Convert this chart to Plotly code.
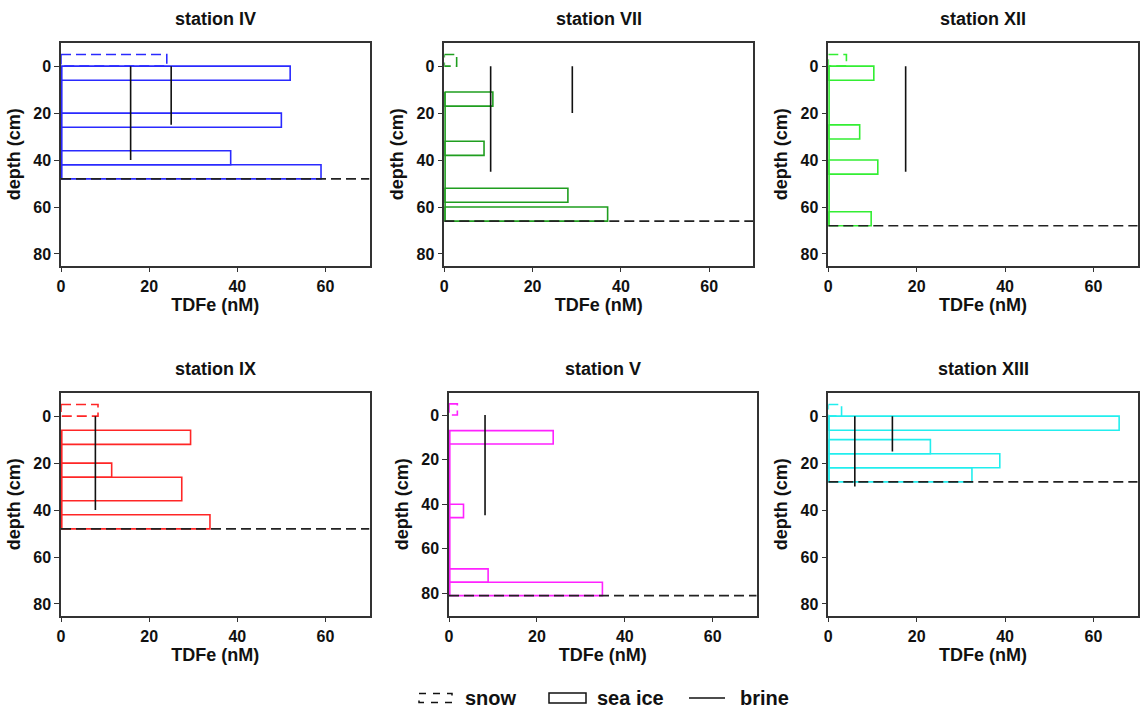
import plotly.graph_objects as go

# ---------------- data ----------------
stations = ["station IV", "station VII", "station XII", "station IX", "station V", "station XIII"]
colors = ["#2a2aff", "#1f9e1f", "#33ee33", "#ff2626", "#ff22ff", "#22eeee"]

snow_top = [-5, -5, -5, -5, -5, -5]
snow_bot = [0, 0, 0, 0, 0, 0]
snow_tdfe = [24, 2.8, 4.1, 8.4, 1.9, 3.0]

ice_top = [[0, 20, 36, 42], [11, 32, 52, 60], [0, 25, 40, 62],
           [6, 20, 26, 42], [7, 40, 69, 75], [0, 10, 16, 22]]
ice_bot = [[6, 26, 42, 48], [17, 38, 58, 66], [6, 31, 46, 68],
           [12, 26, 36, 48], [13, 46, 75, 81], [6, 16, 22, 28]]
ice_tdfe = [[52, 50, 38.5, 59], [11, 9, 28, 37], [10.3, 7.1, 11.2, 9.7],
            [29.4, 11.5, 27.4, 33.8], [23.7, 3.3, 8.9, 34.9], [65.8, 23.1, 38.8, 32.5]]

brine_tdfe = [[15.8, 25], [10.5, 29], [17.5], [7.8], [8.2], [6, 14.5]]
brine_top = [[0, 0], [0, 0], [0], [0], [0], [0, 0]]
brine_bot = [[40, 25], [45, 20], [45], [40], [45], [30, 15]]

ice_base = [48, 66, 68, 48, 81, 28]
depth_max = [85, 85, 85, 85, 90, 85]
depth_min = -10
tdfe_max = 70
x_ticks = [0, 20, 40, 60]
y_ticks = [0, 20, 40, 60, 80]

# ---------------- layout geometry (pixels) ----------------
W, H = 1140, 708
px_x0 = [61, 444.3, 828.3, 61, 449, 828.3]
px_x1 = [369.5, 753.3, 1137.7, 369.5, 756.7, 1137.7]
px_top = [42.7, 42.7, 42.7, 392.7, 392.7, 392.7]
px_bot = [265.7, 265.7, 265.7, 615.7, 615.7, 615.7]

FONT = "Liberation Sans, Arial, Helvetica, sans-serif"
LW = 1.6

fig = go.Figure()
layout = dict(
    width=W, height=H, autosize=False,
    margin=dict(l=0, r=0, t=0, b=0),
    paper_bgcolor="white", plot_bgcolor="white",
    showlegend=False,
    font=dict(family=FONT, color="black"),
    annotations=[], shapes=[],
)

for i in range(6):
    n = "" if i == 0 else str(i + 1)
    xa, ya = "x" + n, "y" + n
    col = colors[i]

    # snow (dashed box)
    s_v, s_t, s_b = snow_tdfe[i], snow_top[i], snow_bot[i]
    fig.add_trace(go.Scatter(
        x=[0, s_v, s_v, 0, 0], y=[s_t, s_t, s_b, s_b, s_t], mode="lines",
        line=dict(color=col, width=LW, dash="10px,5px"),
        xaxis=xa, yaxis=ya, hoverinfo="skip"))

    # sea ice profile along x=0
    fig.add_trace(go.Scatter(
        x=[0, 0], y=[min(ice_top[i]), max(ice_bot[i])], mode="lines",
        line=dict(color=col, width=LW * 2), xaxis=xa, yaxis=ya, hoverinfo="skip"))

    # sea ice boxes
    for t, b, v in zip(ice_top[i], ice_bot[i], ice_tdfe[i]):
        fig.add_trace(go.Scatter(
            x=[0, v, v, 0, 0], y=[t, t, b, b, t], mode="lines",
            line=dict(color=col, width=LW),
            xaxis=xa, yaxis=ya, hoverinfo="skip"))

    # ice base (dashed)
    fig.add_trace(go.Scatter(
        x=[0, tdfe_max], y=[ice_base[i], ice_base[i]], mode="lines",
        line=dict(color="#222222", width=LW, dash="10px,5px"),
        xaxis=xa, yaxis=ya, hoverinfo="skip"))

    # brine
    for bx, bt, bb in zip(brine_tdfe[i], brine_top[i], brine_bot[i]):
        fig.add_trace(go.Scatter(
            x=[bx, bx], y=[bt, bb], mode="lines",
            line=dict(color="#111111", width=LW),
            xaxis=xa, yaxis=ya, hoverinfo="skip"))

    xd = [px_x0[i] / W, px_x1[i] / W]
    yd = [1 - px_bot[i] / H, 1 - px_top[i] / H]
    tickfont = dict(family=FONT, size=16, color="#111111", weight="bold")
    layout["xaxis" + n] = dict(
        domain=xd, anchor=ya, range=[0, tdfe_max], tickvals=x_ticks,
        showline=True, linecolor="#333333", linewidth=1.5, mirror=True,
        ticks="outside", ticklen=5, tickwidth=1.3, tickcolor="#333333",
        showgrid=False, zeroline=False, tickfont=tickfont, automargin=False,
        layer="below traces",
        title=dict(text="<b>TDFe (nM)</b>", standoff=4,
                   font=dict(family=FONT, size=18, color="#111111")))
    layout["yaxis" + n] = dict(
        domain=yd, anchor=xa, range=[depth_max[i], depth_min], tickvals=y_ticks,
        showline=True, linecolor="#333333", linewidth=1.5, mirror=True,
        ticks="outside", ticklen=5, tickwidth=1.3, tickcolor="#333333",
        showgrid=False, zeroline=False, tickfont=tickfont, automargin=False,
        layer="below traces",
        title=dict(text="<b>depth (cm)</b>", standoff=8,
                   font=dict(family=FONT, size=18, color="#111111")))

    layout["annotations"].append(dict(
        text="<b>" + stations[i] + "</b>", xref="paper", yref="paper",
        x=(px_x0[i] + px_x1[i]) / 2 / W, y=1 - (px_top[i] - 24) / H,
        xanchor="center", yanchor="middle", showarrow=False,
        font=dict(family=FONT, size=18, color="#111111")))

# ---------------- custom legend ----------------
ly = 698
def px(xp):
    return xp / W
def py(yp):
    return 1 - yp / H

legend_font = dict(family=FONT, size=20, color="#111111")
layout["shapes"].append(dict(type="rect", xref="paper", yref="paper",
                             x0=px(419), x1=px(452), y0=py(693.5), y1=py(702.5),
                             line=dict(color="#111111", width=1.5, dash="7px,7px")))
layout["shapes"].append(dict(type="rect", xref="paper", yref="paper",
                             x0=px(549), x1=px(586), y0=py(693), y1=py(703),
                             line=dict(color="#111111", width=1.5)))
layout["shapes"].append(dict(type="line", xref="paper", yref="paper",
                             x0=px(689), x1=px(725), y0=py(ly), y1=py(ly),
                             line=dict(color="#111111", width=1.5)))
for txt, xl in [("snow", 463), ("sea ice", 595), ("brine", 738)]:
    layout["annotations"].append(dict(
        text="<b>" + txt + "</b>", xref="paper", yref="paper",
        x=px(xl), y=py(ly), xanchor="left", yanchor="middle",
        showarrow=False, font=legend_font))

fig.update_layout(**layout)
fig.write_html("out.html",
               config={"displayModeBar": False},
               post_script="document.body.style.margin='0';document.body.style.overflow='hidden';")
